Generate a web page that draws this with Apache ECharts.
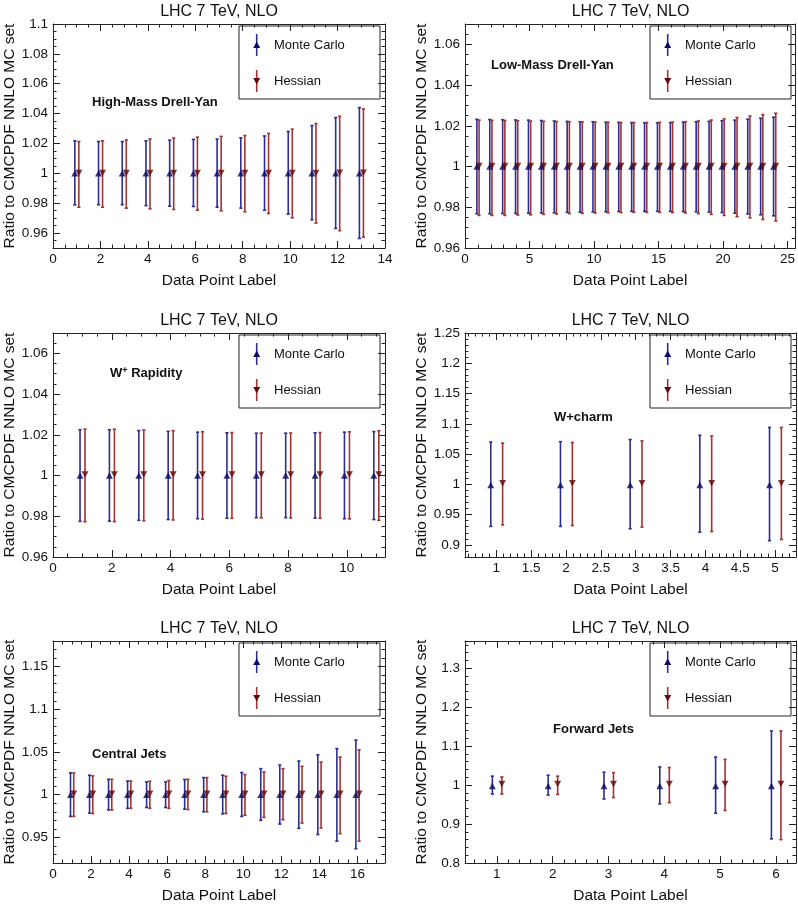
<!DOCTYPE html>
<html><head><meta charset="utf-8">
<script src="https://cdn.jsdelivr.net/npm/echarts@6/dist/echarts.min.js"></script>
<style>html,body{margin:0;padding:0;background:#fff}#c{width:798px;height:905px}</style>
</head><body><div id="c"></div>
<script>
// ---------------- DATA ----------------
const seriesNames = ['Monte Carlo', 'Hessian'];
const plotTitle = 'LHC 7 TeV, NLO';

// High-Mass Drell-Yan
const hmdyLabels = [1,2,3,4,5,6,7,8,9,10,11,12,13];
const hmdyMcCentral = [1,1,1,1,1,1,1,1,1,1,1,1,1];
const hmdyMcLow  = [0.9789,0.9790,0.9790,0.9784,0.9780,0.9778,0.9773,0.9767,0.9753,0.9727,0.9689,0.9631,0.9564];
const hmdyMcHigh = [1.0218,1.0213,1.0213,1.0218,1.0222,1.0227,1.0230,1.0238,1.0250,1.0280,1.0320,1.0373,1.0440];
const hmdyHeCentral = [1.0003,1.0003,1.0003,1.0003,1.0003,1.0003,1.0003,1.0003,1.0003,1.0003,1.0003,1.0004,1.0004];
const hmdyHeLow  = [0.9773,0.9773,0.9767,0.9762,0.9758,0.9753,0.9749,0.9742,0.9731,0.9702,0.9667,0.9616,0.9573];
const hmdyHeHigh = [1.0213,1.0218,1.0224,1.0230,1.0236,1.0242,1.0247,1.0253,1.0267,1.0296,1.0333,1.0382,1.0431];
const hmdyXTicks = [0,2,4,6,8,10,12,14];
const hmdyYTicks = [0.96,0.98,1,1.02,1.04,1.06,1.08,1.1];

// Low-Mass Drell-Yan
const lmdyLabels = [1,2,3,4,5,6,7,8,9,10,11,12,13,14,15,16,17,18,19,20,21,22,23,24];
const lmdyMcCentral = [1,1,1,1,1,1,1,1,1,1,1,1,1,1,1,1,1,1,1,1,1,1,1,1];
const lmdyMcLow  = [0.9768,0.9768,0.9769,0.9770,0.9771,0.9772,0.9773,0.9775,0.9776,0.9777,0.9778,0.9779,0.9780,0.9780,0.9780,0.9780,0.9779,0.9778,0.9776,0.9774,0.9771,0.9767,0.9763,0.9758];
const lmdyMcHigh = [1.0232,1.0231,1.0230,1.0229,1.0228,1.0226,1.0224,1.0222,1.0220,1.0220,1.0218,1.0217,1.0216,1.0215,1.0215,1.0216,1.0218,1.0220,1.0222,1.0225,1.0228,1.0233,1.0237,1.0242];
const lmdyHeCentral = [1.0003,1.0003,1.0003,1.0003,1.0003,1.0003,1.0003,1.0003,1.0003,1.0003,1.0003,1.0003,1.0003,1.0003,1.0003,1.0003,1.0003,1.0003,1.0003,1.0003,1.0003,1.0003,1.0003,1.0003];
const lmdyHeLow  = [0.9760,0.9760,0.9760,0.9762,0.9763,0.9765,0.9767,0.9769,0.9770,0.9772,0.9773,0.9774,0.9775,0.9775,0.9775,0.9774,0.9772,0.9769,0.9765,0.9760,0.9754,0.9748,0.9740,0.9733];
const lmdyHeHigh = [1.0228,1.0227,1.0226,1.0225,1.0223,1.0222,1.0221,1.0220,1.0219,1.0218,1.0217,1.0216,1.0216,1.0216,1.0217,1.0218,1.0220,1.0224,1.0228,1.0234,1.0241,1.0248,1.0255,1.0262];
const lmdyXTicks = [0,5,10,15,20,25];
const lmdyYTicks = [0.96,0.98,1,1.02,1.04,1.06];

// W+ Rapidity
const wpLabels = [1,2,3,4,5,6,7,8,9,10,11];
const wpMcCentral = [1,1,1,1,1,1,1,1,1,1,1];
const wpMcLow  = [0.9775,0.9776,0.9780,0.9784,0.9788,0.9791,0.9793,0.9793,0.9791,0.9788,0.9784];
const wpMcHigh = [1.0225,1.0225,1.0221,1.0217,1.0213,1.0210,1.0208,1.0208,1.0210,1.0213,1.0216];
const wpHeCentral = [1.0005,1.0005,1.0005,1.0005,1.0005,1.0005,1.0005,1.0005,1.0005,1.0005,1.0005];
const wpHeLow  = [0.9773,0.9774,0.9778,0.9782,0.9786,0.9790,0.9792,0.9792,0.9790,0.9787,0.9780];
const wpHeHigh = [1.0228,1.0227,1.0224,1.0220,1.0215,1.0211,1.0209,1.0209,1.0211,1.0215,1.0220];
const wpXTicks = [0,2,4,6,8,10];
const wpYTicks = [0.96,0.98,1,1.02,1.04,1.06];

// W+charm
const wcLabels = [1,2,3,4,5];
const wcMcCentral = [0.999,0.999,0.999,0.999,0.999];
const wcMcLow  = [0.9305,0.9305,0.9267,0.9210,0.9070];
const wcMcHigh = [1.0700,1.0705,1.0740,1.0810,1.0940];
const wcHeCentral = [1.002,1.002,1.002,1.002,1.002];
const wcHeLow  = [0.9330,0.9320,0.9294,0.9220,0.9090];
const wcHeHigh = [1.0680,1.0690,1.0717,1.0800,1.0940];
const wcXTicks = [1,1.5,2,2.5,3,3.5,4,4.5,5];
const wcYTicks = [0.9,0.95,1,1.05,1.1,1.15,1.2,1.25];

// Central Jets
const cjLabels = [1,2,3,4,5,6,7,8,9,10,11,12,13,14,15,16];
const cjMcCentral = [1,1,1,1,1,1,1,1,1,1,1,1,1,1,1,1];
const cjMcLow  = [0.9745,0.9784,0.9822,0.9840,0.9850,0.9850,0.9830,0.9800,0.9776,0.9745,0.9700,0.9656,0.9606,0.9533,0.9456,0.9367];
const cjMcHigh = [1.0255,1.0228,1.0180,1.0160,1.0150,1.0150,1.0178,1.0200,1.0228,1.0259,1.0305,1.0347,1.0394,1.0467,1.0540,1.0640];
const cjHeCentral = [1.001,1.001,1.001,1.001,1.001,1.001,1.001,1.001,1.001,1.001,1.001,1.001,1.001,1.001,1.001,1.001];
const cjHeLow  = [0.9745,0.9780,0.9820,0.9840,0.9840,0.9840,0.9826,0.9800,0.9780,0.9760,0.9734,0.9707,0.9668,0.9610,0.9544,0.9456];
const cjHeHigh = [1.0255,1.0220,1.0180,1.0160,1.0158,1.0166,1.0180,1.0200,1.0216,1.0236,1.0266,1.0305,1.0332,1.0382,1.0440,1.0525];
const cjXTicks = [0,2,4,6,8,10,12,14,16];
const cjYTicks = [0.95,1,1.05,1.1,1.15];

// Forward Jets
const fjLabels = [1,2,3,4,5,6];
const fjMcCentral = [0.998,0.998,0.998,0.998,0.998,0.998];
const fjMcLow  = [0.977,0.9746,0.9644,0.9517,0.928,0.862];
const fjMcHigh = [1.023,1.0254,1.033,1.0466,1.072,1.139];
const fjHeCentral = [1.003,1.003,1.003,1.003,1.003,1.003];
const fjHeLow  = [0.977,0.976,0.968,0.955,0.935,0.860];
const fjHeHigh = [1.021,1.023,1.032,1.045,1.066,1.139];
const fjXTicks = [1,2,3,4,5,6];
const fjYTicks = [0.8,0.9,1,1.1,1.2,1.3];

// ---------------- LAYOUT / STYLE ----------------
const FONT = '"Liberation Sans", Arial, Helvetica, sans-serif';
const MC_COLOR = '#2d2d92', MC_MARK = '#0b0b66';
const HE_COLOR = '#a23434', HE_MARK = '#620808';
const MC_SHIFT = -0.08, HE_SHIFT = 0.09;
const COL_LEFT = [53, 465], COL_W = [332, 331];
const ROW_TOP = [24, 333, 641], GRID_H = 224;
const AX = '#222';

const panels = [
  {name:'High-Mass Drell-Yan', col:0,row:0, xr:[0,14], xt:hmdyXTicks, xm:0.5, yr:[0.95,1.1], yt:hmdyYTicks, ym:0.005, lab:[92,102],
   n:hmdyLabels, mc:[hmdyMcCentral,hmdyMcLow,hmdyMcHigh], he:[hmdyHeCentral,hmdyHeLow,hmdyHeHigh]},
  {name:'Low-Mass Drell-Yan', col:1,row:0, xr:[0,25.6], xt:lmdyXTicks, xm:1, yr:[0.96,1.07], yt:lmdyYTicks, ym:0.005, lab:[491,65],
   n:lmdyLabels, mc:[lmdyMcCentral,lmdyMcLow,lmdyMcHigh], he:[lmdyHeCentral,lmdyHeLow,lmdyHeHigh]},
  {name:'W+ Rapidity', rich:true, col:0,row:1, xr:[0,11.3], xt:wpXTicks, xm:0.5, yr:[0.96,1.07], yt:wpYTicks, ym:0.005, lab:[110,373],
   n:wpLabels, mc:[wpMcCentral,wpMcLow,wpMcHigh], he:[wpHeCentral,wpHeLow,wpHeHigh]},
  {name:'W+charm', col:1,row:1, xr:[0.55,5.3], xt:wcXTicks, xm:0.1, yr:[0.88,1.25], yt:wcYTicks, ym:0.01, lab:[554,417],
   n:wcLabels, mc:[wcMcCentral,wcMcLow,wcMcHigh], he:[wcHeCentral,wcHeLow,wcHeHigh]},
  {name:'Central Jets', col:0,row:2, xr:[0,17.45], xt:cjXTicks, xm:0.5, yr:[0.92,1.18], yt:cjYTicks, ym:0.01, lab:[92,754],
   n:cjLabels, mc:[cjMcCentral,cjMcLow,cjMcHigh], he:[cjHeCentral,cjHeLow,cjHeHigh]},
  {name:'Forward Jets', col:1,row:2, xr:[0.43,6.36], xt:fjXTicks, xm:0.2, yr:[0.8,1.37], yt:fjYTicks, ym:0.02, lab:[553,729],
   n:fjLabels, mc:[fjMcCentral,fjMcLow,fjMcHigh], he:[fjHeCentral,fjHeLow,fjHeHigh]}
];

function minorTicks(min, max, step) {
  const arr = [];
  const k0 = Math.ceil(min / step - 1e-9);
  for (let k = k0; k * step <= max + 1e-9; k++) arr.push(+(k * step).toFixed(6));
  return arr;
}

const grids = [], xAxes = [], yAxes = [], series = [], titles = [], graphics = [];

function axisSet(dim, gi, range, majors, minorStep, name) {
  const isX = dim === 'x';
  const minors = minorTicks(range[0], range[1], minorStep);
  const base = {gridIndex: gi, type: 'value', min: range[0], max: range[1], splitLine: {show: false}};
  const main = Object.assign({}, base, {
    position: isX ? 'bottom' : 'left',
    axisLine: {show: true, onZero: false, lineStyle: {color: AX, width: 1}},
    axisTick: {show: true, inside: true, length: 7, customValues: majors, lineStyle: {color: AX, width: 1}},
    axisLabel: {show: true, customValues: majors, margin: isX ? 4 : 5, fontSize: 13.5, color: '#111', fontFamily: FONT},
    name: name, nameLocation: 'middle', nameGap: isX ? 25 : 35,
    nameTextStyle: {fontSize: 15.5, color: '#111', fontFamily: FONT}
  });
  const mainMinor = Object.assign({}, base, {
    position: isX ? 'bottom' : 'left',
    axisLine: {show: false, onZero: false},
    axisTick: {show: true, inside: true, length: 3.5, customValues: minors, lineStyle: {color: AX, width: 1}},
    axisLabel: {show: false}
  });
  const opp = Object.assign({}, base, {
    position: isX ? 'top' : 'right',
    axisLine: {show: true, onZero: false, lineStyle: {color: AX, width: 1}},
    axisTick: {show: true, inside: true, length: 7, customValues: majors, lineStyle: {color: AX, width: 1}},
    axisLabel: {show: false}
  });
  const oppMinor = Object.assign({}, base, {
    position: isX ? 'top' : 'right',
    axisLine: {show: false, onZero: false},
    axisTick: {show: true, inside: true, length: 3.5, customValues: minors, lineStyle: {color: AX, width: 1}},
    axisLabel: {show: false}
  });
  return [main, mainMinor, opp, oppMinor];
}

function errRender(color) {
  return function (params, api) {
    const x = api.value(0), lo = api.value(1), hi = api.value(2);
    const a = api.coord([x, lo]), b = api.coord([x, hi]);
    const cap = 1.6;
    const st = {stroke: color, lineWidth: 1.6};
    return {type: 'group', children: [
      {type: 'line', shape: {x1: a[0], y1: a[1], x2: b[0], y2: b[1]}, style: st},
      {type: 'line', shape: {x1: a[0] - cap, y1: a[1], x2: a[0] + cap, y2: a[1]}, style: st},
      {type: 'line', shape: {x1: b[0] - cap, y1: b[1], x2: b[0] + cap, y2: b[1]}, style: st}
    ]};
  };
}

panels.forEach((p, gi) => {
  const left = COL_LEFT[p.col], width = COL_W[p.col], top = ROW_TOP[p.row];
  grids.push({left: left, top: top, width: width, height: GRID_H, containLabel: false});
  const xs = axisSet('x', gi, p.xr, p.xt, p.xm, 'Data Point Label');
  const ys = axisSet('y', gi, p.yr, p.yt, p.ym, 'Ratio to CMCPDF NNLO MC set');
  const xi = xAxes.length, yi = yAxes.length;
  xAxes.push(...xs); yAxes.push(...ys);

  titles.push({text: plotTitle, left: left + width / 2, top: top - 20, textAlign: 'center',
    textStyle: {fontSize: 16, fontWeight: 'normal', color: '#111', fontFamily: FONT}, padding: 0});

  const mcErr = p.n.map((v, i) => [v + MC_SHIFT, p.mc[1][i], p.mc[2][i]]);
  const heErr = p.n.map((v, i) => [v + HE_SHIFT, p.he[1][i], p.he[2][i]]);
  const mcPts = p.n.map((v, i) => [v + MC_SHIFT, p.mc[0][i]]);
  const hePts = p.n.map((v, i) => [v + HE_SHIFT, p.he[0][i]]);
  series.push(
    {type: 'custom', name: seriesNames[0], xAxisIndex: xi, yAxisIndex: yi, data: mcErr, renderItem: errRender(MC_COLOR), encode: {x: 0, y: [1, 2]}, z: 2, silent: true},
    {type: 'custom', name: seriesNames[1], xAxisIndex: xi, yAxisIndex: yi, data: heErr, renderItem: errRender(HE_COLOR), encode: {x: 0, y: [1, 2]}, z: 2, silent: true},
    {type: 'scatter', name: seriesNames[0], xAxisIndex: xi, yAxisIndex: yi, data: mcPts, symbol: 'triangle', symbolSize: [7, 6.5], itemStyle: {color: MC_MARK}, z: 3, silent: true},
    {type: 'scatter', name: seriesNames[1], xAxisIndex: xi, yAxisIndex: yi, data: hePts, symbol: 'triangle', symbolRotate: 180, symbolSize: [7, 6.5], itemStyle: {color: HE_MARK}, z: 3, silent: true}
  );

  // legend box
  const bx = left + width - 146, by = top + 2;
  const mx = bx + 17.7;
  const entries = [[seriesNames[0], by + 19, MC_COLOR, MC_MARK, true], [seriesNames[1], by + 55, HE_COLOR, HE_MARK, false]];
  const children = [{type: 'rect', shape: {x: bx, y: by, width: 141, height: 73}, style: {fill: '#fff', stroke: AX, lineWidth: 1}}];
  entries.forEach(e => {
    const cy = e[1];
    children.push({type: 'line', shape: {x1: mx, y1: cy - 11, x2: mx, y2: cy + 11}, style: {stroke: e[2], lineWidth: 1.6}});
    const pts = e[4] ? [[mx - 3.5, cy + 3], [mx + 3.5, cy + 3], [mx, cy - 3.5]] : [[mx - 3.5, cy - 3], [mx + 3.5, cy - 3], [mx, cy + 3.5]];
    children.push({type: 'polygon', shape: {points: pts}, style: {fill: e[3]}});
    children.push({type: 'text', x: bx + 35, y: cy, style: {text: e[0], fontSize: 13, fontFamily: FONT, fill: '#111', verticalAlign: 'middle', align: 'left'}});
  });
  graphics.push({type: 'group', children: children, z: 10});

  // annotation
  if (p.rich) {
    graphics.push({type: 'text', x: p.lab[0], y: p.lab[1], z: 10, style: {
      text: '{a|W}{s|+}{a| Rapidity}', verticalAlign: 'middle', align: 'left',
      rich: {a: {fontSize: 13, fontWeight: 'bold', fontFamily: FONT, fill: '#111', verticalAlign: 'bottom'},
             s: {fontSize: 9, fontWeight: 'bold', fontFamily: FONT, fill: '#111', verticalAlign: 'top'}}
    }});
  } else {
    graphics.push({type: 'text', x: p.lab[0], y: p.lab[1], z: 10, style: {text: p.name, fontSize: 13, fontWeight: 'bold', fontFamily: FONT, fill: '#111', verticalAlign: 'middle', align: 'left'}});
  }
});

const chart = echarts.init(document.getElementById('c'), null, {renderer: 'canvas'});
chart.setOption({
  animation: false,
  backgroundColor: '#fff',
  title: titles,
  grid: grids,
  xAxis: xAxes,
  yAxis: yAxes,
  series: series,
  graphic: graphics
});
</script></body></html>
